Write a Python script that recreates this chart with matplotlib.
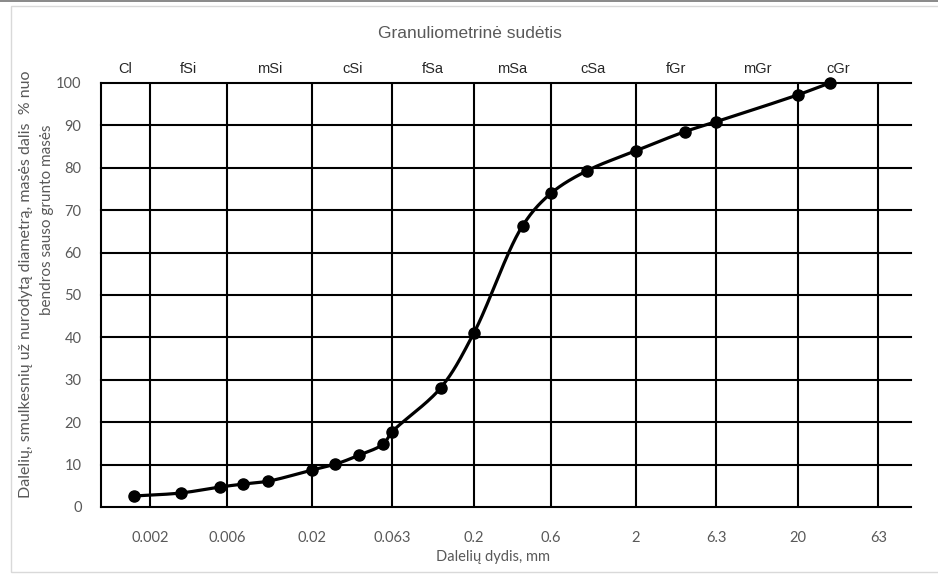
import matplotlib
matplotlib.use('Agg')
import matplotlib.pyplot as plt
import numpy as np
from matplotlib.patches import Rectangle

# sieve / hydrometer results: particle size [mm] and % passing
size_mm = [0.0016, 0.0031, 0.0054, 0.0075, 0.0108, 0.020, 0.028, 0.039,
           0.055, 0.063, 0.125, 0.2, 0.4, 0.6, 1.0, 2.0, 4.0, 6.3, 20.0, 31.5]
passing = [2.6, 3.3, 4.7, 5.4, 6.1, 8.7, 10.1, 12.2,
           14.8, 17.8, 28.1, 41.0, 66.3, 74.0, 79.3, 84.0, 88.5, 90.9, 97.2, 100.0]

# fraction boundaries and soil fraction names (ISO 14688)
bounds = [0.001, 0.002, 0.006, 0.02, 0.063, 0.2, 0.6, 2, 6.3, 20, 63]
bound_labels = ['0.002', '0.006', '0.02', '0.063', '0.2', '0.6', '2', '6.3', '20', '63']
fractions = ['Cl', 'fSi', 'mSi', 'cSi', 'fSa', 'mSa', 'cSa', 'fGr', 'mGr', 'cGr']
y_ticks = list(range(0, 101, 10))

GREY = '#595959'
W, H = 938, 576


def smooth(xs, ys, n=30):
    """Centripetal Catmull-Rom through the points, in log-x / linear-y space."""
    u = (np.log10(xs) + 3.0) * 161.6
    v = np.asarray(ys) * 4.24
    P = np.column_stack([u, v])
    P = np.vstack([2 * P[0] - P[1], P, 2 * P[-1] - P[-2]])
    out = []
    for i in range(1, len(P) - 2):
        p0, p1, p2, p3 = P[i - 1], P[i], P[i + 1], P[i + 2]
        t0 = 0.0
        t1 = t0 + np.linalg.norm(p1 - p0) ** 0.5
        t2 = t1 + np.linalg.norm(p2 - p1) ** 0.5
        t3 = t2 + np.linalg.norm(p3 - p2) ** 0.5
        t = np.linspace(t1, t2, n)[:, None]
        a1 = (t1 - t) / (t1 - t0) * p0 + (t - t0) / (t1 - t0) * p1
        a2 = (t2 - t) / (t2 - t1) * p1 + (t - t1) / (t2 - t1) * p2
        a3 = (t3 - t) / (t3 - t2) * p2 + (t - t2) / (t3 - t2) * p3
        b1 = (t2 - t) / (t2 - t0) * a1 + (t - t0) / (t2 - t0) * a2
        b2 = (t3 - t) / (t3 - t1) * a2 + (t - t1) / (t3 - t1) * a3
        c = (t2 - t) / (t2 - t1) * b1 + (t - t1) / (t2 - t1) * b2
        out.append(c if i == 1 else c[1:])
    c = np.vstack(out)
    return 10 ** (c[:, 0] / 161.6 - 3.0), c[:, 1] / 4.24


fig = plt.figure(figsize=(W / 100, H / 100), dpi=100)
fig.patches.append(Rectangle((11 / W, 1 - 572 / H), 1, (572 - 6) / H,
                             transform=fig.transFigure, fill=False,
                             ec='#d9d9d9', lw=1.0))
fig.patches.append(Rectangle((0, 1 - 1.5 / H), 1, 1.5 / H,
                             transform=fig.transFigure, fc='#8c8c8c', ec='none'))

ax = fig.add_axes([101 / W, 1 - 507 / H, (911 - 101) / W, (507 - 83) / H])
ax.set_xscale('log')
ax.set_xlim(0.001, 100)
ax.set_ylim(0, 100)

for sp in ['top', 'right', 'bottom']:
    ax.spines[sp].set_visible(False)
ax.spines['left'].set_linewidth(1.5)

for yv in y_ticks:
    ax.axhline(yv, color='black', lw=1.5, zorder=1, clip_on=False)
for xv in bounds[1:]:
    ax.axvline(xv, color='black', lw=1.5, zorder=1)

ax.set_xticks([float(b) for b in bound_labels])
ax.set_xticklabels(bound_labels)
ax.xaxis.set_minor_locator(matplotlib.ticker.NullLocator())
ax.set_yticks(y_ticks)
ax.tick_params(length=0, colors=GREY, labelsize=10.5, labelfontfamily='Lato')
ax.tick_params(axis='x', pad=17)
ax.tick_params(axis='y', pad=14)

# fraction names above the plot, centred in each interval
for lo, hi, name in zip(bounds[:-1], bounds[1:], fractions):
    ax.text(np.sqrt(lo * hi), 103.2, name, ha='center', va='center',
            fontsize=10.5, color='#262626', family='Liberation Sans', clip_on=False)

sx, sy = smooth(size_mm, passing)
ax.plot(sx, sy, color='black', lw=2.3, zorder=3, clip_on=False)
ax.plot(size_mm, passing, 'o', color='black', ms=8, zorder=4, clip_on=False)

fig.text(470 / W, 1 - 33 / H, 'Granuliometrinė sudėtis', ha='center', va='center',
         fontsize=12.5, color=GREY, family='Liberation Sans')
fig.text(493 / W, 1 - 557 / H, 'Dalelių dydis, mm', ha='center', va='center',
         fontsize=10.5, color=GREY, family='Lato')
fig.text(26 / W, 1 - 284 / H, 'Dalelių, smulkesnių už nurodytą diametrą, masės dalis  % nuo',
         ha='center', va='center', rotation=90, fontsize=11.5, color=GREY, family='Lato')
fig.text(47 / W, 1 - 220 / H, 'bendros sauso grunto masės',
         ha='center', va='center', rotation=90, fontsize=11, color=GREY, family='Lato')

fig.savefig('out.png', dpi=100)
